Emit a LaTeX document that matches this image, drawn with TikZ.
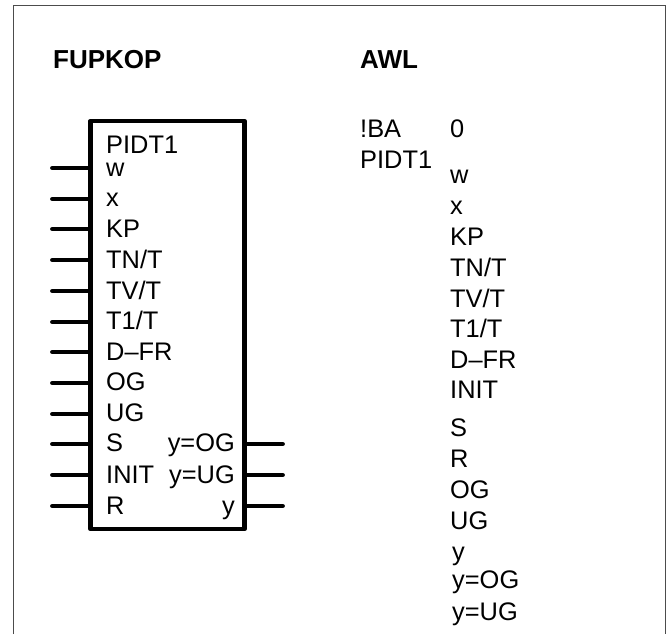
\documentclass[tikz,border=0pt]{standalone}
\usepackage{fontspec}
\setmainfont{Liberation Sans}
\begin{document}
\begin{tikzpicture}[x=1pt,y=-1pt,
  lab/.style={inner sep=0pt,anchor=base west,font=\fontsize{25.4}{25.4}\selectfont},
  labr/.style={inner sep=0pt,anchor=base east,font=\fontsize{25.4}{25.4}\selectfont},
  head/.style={inner sep=0pt,anchor=base west,font=\fontsize{26}{26}\selectfont\bfseries},
  pin/.style={line width=4.8pt,line cap=round},
  blockbox/.style={line width=4.8pt,line join=round}]
\useasboundingbox (0,0) rectangle (671,634);
\draw[line width=1pt,black!70] (13,634) -- (13,6) -- (665,6) -- (665,634);
\node[head] (fk) at (53,68) {FUPKOP};
\node[head] (awl) at (360,68) {AWL};
\coordinate (boxnw) at (90.5,121);
\coordinate (boxse) at (244.5,529);
\draw[blockbox] (boxnw) rectangle (boxse);
\node[lab] (title) at (106,153) {PIDT1};
\foreach \n/\t/\yb/\yl in {a/w/176/168,b/x/206/199,c/KP/237/229,d/TN\slash T/268/260,e/TV\slash T/299/291,f/T1\slash T/329/322,g/D--FR/360/352,h/OG/390/383,i/UG/421/414,j/S/451/444,k/INIT/483/475,l/R/514/506}{
  \node[lab] (in\n) at (106,\yb) {\t};
  \coordinate (pinfree\n) at (52.5,\yl);
  \coordinate (pinbox\n) at (90.5,\yl);
  \draw[pin] (pinfree\n) -- (pinbox\n);
}
\foreach \n/\t/\yb/\yl in {p/y=OG/451/444,q/y=UG/483/475,r/y/514/506}{
  \node[labr] (out\n) at (235,\yb) {\t};
  \coordinate (pinfree\n) at (282.5,\yl);
  \coordinate (pinbox\n) at (244.5,\yl);
  \draw[pin] (pinbox\n) -- (pinfree\n);
}
\node[lab] (ba) at (360,137) {!BA};
\node[lab] (zero) at (450,137) {0};
\node[lab] (pt) at (360,168) {PIDT1};
\foreach \n/\t/\yb in {a/w/183,b/x/214,c/KP/245,d/TN\slash T/276,e/TV\slash T/307,f/T1\slash T/337,g/D--FR/368,h/INIT/398,i/S/436,j/R/467,k/OG/498,l/UG/529}{
  \node[lab] (awl\n) at (450,\yb) {\t};
}
\foreach \n/\t/\yb in {r/y/560,p/y=OG/588,q/y=UG/620}{
  \node[lab] (awl\n) at (452,\yb) {\t};
}
\end{tikzpicture}
\end{document}
